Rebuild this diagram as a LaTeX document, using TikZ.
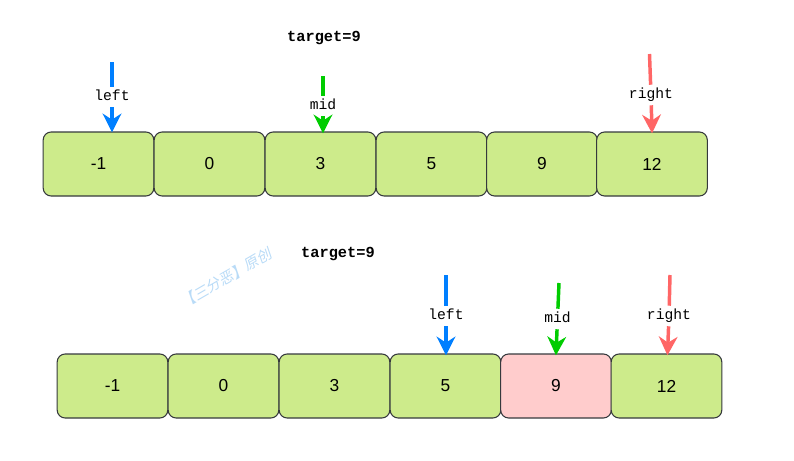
\documentclass[tikz,border=0pt]{standalone}
\usepackage{fontspec}
\setmainfont{Liberation Sans}
\newfontfamily\monofnt{Liberation Mono}
\newfontfamily\cjkfnt[FakeSlant=0.2]{Noto Sans CJK SC}
\usetikzlibrary{arrows.meta}
\definecolor{cellgreen}{HTML}{CDEB8B}
\definecolor{cellpink}{HTML}{FFCCCC}
\definecolor{cellborder}{HTML}{36393D}
\definecolor{ptrblue}{HTML}{007FFF}
\definecolor{ptrgreen}{HTML}{00CC00}
\definecolor{ptrred}{HTML}{FF6666}
\definecolor{wmblue}{HTML}{B9DBF7}
\tikzset{
  cell/.style={draw=cellborder, line width=0.8pt, fill=cellgreen, rounded corners=6pt,
    minimum width=83pt, minimum height=48pt, inner sep=0pt, font=\fontsize{13}{15}\selectfont},
  hitcell/.style={cell, fill=cellpink},
  ptrlabel/.style={fill=white, inner xsep=1pt, inner ysep=3pt, text height=7pt, text depth=2pt,
    font=\monofnt\fontsize{11}{13}\selectfont},
  ptr/.style={line width=2.6pt},
  ptrtip/.style={ptr, -{Stealth[length=14pt, width=14pt, inset=4.5pt]}, shorten >=-1pt},
  targetlbl/.style={font=\monofnt\bfseries\fontsize{11.5}{13}\selectfont, inner sep=0pt}
}
\begin{document}
\begin{tikzpicture}[x=0.75pt, y=-0.75pt]
\useasboundingbox (0,0) rectangle (794,461);
% top row
\node[targetlbl] (t1) at (324,38) {target=9};
\node[cell] (a1) at (98.5,164) {-1};
\node[cell] (a2) at (209.5,164) {0};
\node[cell] (a3) at (320.5,164) {3};
\node[cell] (a4) at (431.5,164) {5};
\node[cell] (a5) at (542,164) {9};
\node[cell] (a6) at (652,164) {12};
% bottom row
\node[targetlbl] (t2) at (338,254) {target=9};
\node[cell] (b1) at (112.5,386) {-1};
\node[cell] (b2) at (223.5,386) {0};
\node[cell] (b3) at (334.5,386) {3};
\node[cell] (b4) at (445.5,386) {5};
\node[hitcell] (b5) at (556,386) {9};
\node[cell] (b6) at (666.5,386) {12};
% watermark
\node[rotate=30, text=wmblue, font=\cjkfnt\fontsize{11}{13}\selectfont, inner sep=0pt] (wm) at (226,278) {【三分恶】原创};
% top pointers
\coordinate (s1) at (112,62);
\coordinate (e1) at (112,131);
\node[ptrlabel] (l1) at (112,97) {left};
\draw[ptr, ptrblue] (s1) -- (l1);
\draw[ptrtip, ptrblue] (l1) -- (e1);
\coordinate (s2) at (323,76);
\coordinate (e2) at (323,132);
\node[ptrlabel] (l2) at (323,106) {mid};
\draw[ptr, ptrgreen] (s2) -- (l2);
\draw[ptrtip, ptrgreen] (l2) -- (e2);
\coordinate (s3) at (649.5,54);
\coordinate (e3) at (652,132);
\node[ptrlabel] (l3) at (651,95) {right};
\draw[ptr, ptrred] (s3) -- (l3);
\draw[ptrtip, ptrred] (l3) -- (e3);
% bottom pointers
\coordinate (s4) at (446,275);
\coordinate (e4) at (446,354);
\node[ptrlabel] (l4) at (446,316) {left};
\draw[ptr, ptrblue] (s4) -- (l4);
\draw[ptrtip, ptrblue] (l4) -- (e4);
\coordinate (s5) at (559,283);
\coordinate (e5) at (556,354);
\node[ptrlabel] (l5) at (557.5,319) {mid};
\draw[ptr, ptrgreen] (s5) -- (l5);
\draw[ptrtip, ptrgreen] (l5) -- (e5);
\coordinate (s6) at (670,275);
\coordinate (e6) at (667.5,354);
\node[ptrlabel] (l6) at (669,316) {right};
\draw[ptr, ptrred] (s6) -- (l6);
\draw[ptrtip, ptrred] (l6) -- (e6);
\end{tikzpicture}
\end{document}
